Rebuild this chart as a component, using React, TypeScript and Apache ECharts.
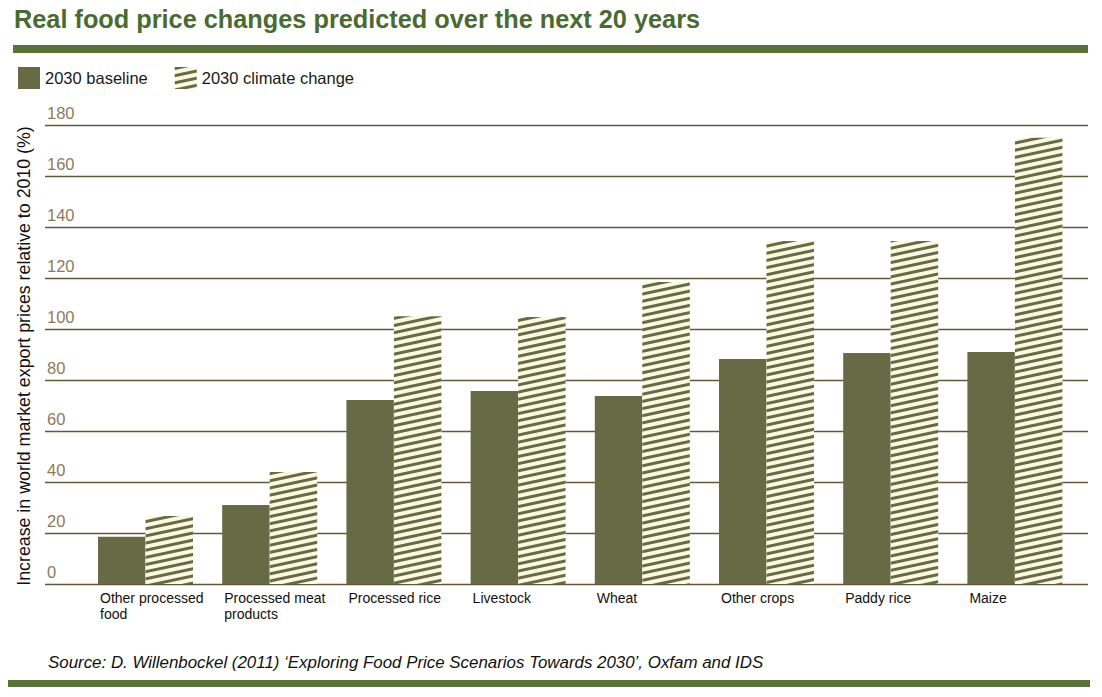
import React, { useEffect, useRef } from "react";
import * as echarts from "echarts";

const categories = [
  "Other processed\nfood",
  "Processed meat\nproducts",
  "Processed rice",
  "Livestock",
  "Wheat",
  "Other crops",
  "Paddy rice",
  "Maize",
];
const baseline = [18.5, 31, 72.2, 75.7, 73.7, 88.2, 90.6, 91];
const climate = [26.7, 43.9, 105, 104.7, 118.4, 134.5, 134.5, 175];
const yTicks = { min: 0, max: 180, interval: 20 };

const OLIVE = "#666b45";
const GREEN_RULE = "#587238";
const TITLE_GREEN = "#4b6a32";

export default function App() {
  const ref = useRef<HTMLDivElement>(null);
  useEffect(() => {
    if (!ref.current) return;
    const chart = echarts.init(ref.current, null, { renderer: "svg" });
    const plotTop = 125;
    const plotH = 459;
    const decal = {
      symbol: "rect",
      symbolSize: 1,
      color: OLIVE,
      dashArrayX: [1, 0],
      dashArrayY: [3, 3.5],
      rotation: -0.21,
    };
    chart.setOption({
      animation: false,
      backgroundColor: "#ffffff",
      textStyle: { fontFamily: "Liberation Sans, Arial, sans-serif" },
      legend: {
        left: 13,
        top: 62,
        itemWidth: 22,
        itemHeight: 22,
        itemGap: 27,
        icon: "rect",
        selectedMode: false,
        textStyle: { fontSize: 16.5, color: "#1a1a1a", padding: [0, 0, 0, 0] },
        data: ["2030 baseline", "2030 climate change"],
      },
      grid: [
        { left: 45, width: 1043, top: plotTop, height: plotH },
        { left: 83.4, width: 993.6, top: plotTop, height: plotH },
        { left: 37.9, width: 993.6, top: plotTop, height: plotH },
      ],
      xAxis: [
        { gridIndex: 0, type: "value", show: false, min: 0, max: 1 },
        {
          gridIndex: 1,
          type: "category",
          data: categories,
          axisLine: { show: false },
          axisTick: { show: false },
          axisLabel: { show: false },
        },
        {
          gridIndex: 2,
          type: "category",
          data: categories,
          axisLine: { show: false },
          axisTick: { show: false },
          axisLabel: {
            align: "left",
            verticalAlign: "top",
            margin: 6,
            fontSize: 14,
            lineHeight: 16,
            color: "#111111",
            interval: 0,
          },
        },
      ],
      yAxis: [
        {
          gridIndex: 0,
          type: "value",
          min: yTicks.min,
          max: yTicks.max,
          interval: yTicks.interval,
          axisLine: { show: false },
          axisTick: { show: false },
          splitLine: { show: true, lineStyle: { color: "#5e5b3c", width: 1.3 } },
          axisLabel: {
            inside: true,
            margin: 2,
            align: "left",
            verticalAlign: "bottom",
            padding: [0, 0, 4, 0],
            fontSize: 16.5,
            color: "#8c7b5a",
          },
        },
        { gridIndex: 1, type: "value", min: yTicks.min, max: yTicks.max, show: false },
        { gridIndex: 2, type: "value", min: yTicks.min, max: yTicks.max, show: false },
      ],
      series: [
        {
          name: "2030 baseline",
          type: "bar",
          xAxisIndex: 1,
          yAxisIndex: 1,
          data: baseline,
          barWidth: 47.5,
          barGap: "0%",
          itemStyle: { color: OLIVE },
        },
        {
          name: "2030 climate change",
          type: "bar",
          xAxisIndex: 1,
          yAxisIndex: 1,
          data: climate,
          barWidth: 47.5,
          barGap: "0%",
          itemStyle: { color: "#fbf9e2", decal },
        },
      ],
      graphic: [
        {
          type: "text",
          left: 14,
          top: 6,
          style: {
            text: "Real food price changes predicted over the next 20 years",
            fontSize: 25.3,
            fontWeight: "bold",
            fontFamily: "Liberation Sans, Arial, sans-serif",
            fill: TITLE_GREEN,
          },
        },
        {
          type: "rect",
          shape: { x: 13, y: 45, width: 1075, height: 8 },
          style: { fill: GREEN_RULE },
        },
        {
          type: "rect",
          shape: { x: 8, y: 680, width: 1082, height: 7 },
          style: { fill: GREEN_RULE },
        },
        {
          type: "text",
          x: 24,
          y: 356,
          rotation: Math.PI / 2,
          style: {
            text: "Increase in world market export prices relative to 2010 (%)",
            fontSize: 17.8,
            fontFamily: "Liberation Sans, Arial, sans-serif",
            fill: "#111111",
            align: "center",
            verticalAlign: "middle",
          },
        },
        {
          type: "text",
          x: 48,
          y: 662,
          style: {
            text: "Source: D. Willenbockel (2011) \u2018Exploring Food Price Scenarios Towards 2030\u2019, Oxfam and IDS",
            fontSize: 16.9,
            fontStyle: "italic",
            fontFamily: "Liberation Sans, Arial, sans-serif",
            fill: "#111111",
            verticalAlign: "middle",
          },
        },
      ],
    });
    return () => chart.dispose();
  }, []);
  return <div ref={ref} style={{ width: 1102, height: 697, margin: -8 }} />;
}
